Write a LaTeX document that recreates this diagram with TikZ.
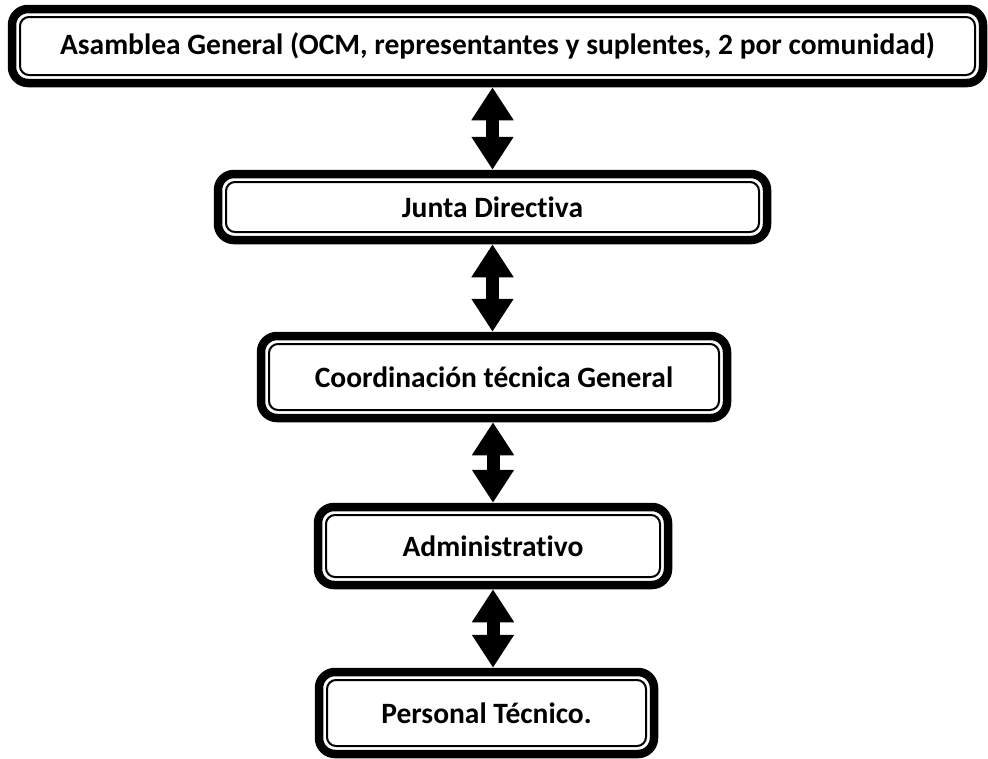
\documentclass[tikz,border=0pt]{standalone}
\usepackage{fontspec}
\setmainfont{Carlito}[Ligatures=NoCommon]
\usetikzlibrary{arrows.meta}
\begin{document}
\begin{tikzpicture}[x=1pt,y=-1pt,
  caja/.style={draw,line width=8.5pt,rounded corners=16pt,fill=white,inner sep=0pt,
    font=\fontsize{29.5}{33}\selectfont\bfseries,
    path picture={\draw[line width=2pt,rounded corners=9pt]
      ([shift={(8pt,8pt)}]path picture bounding box.south west) rectangle
      ([shift={(-8pt,-8pt)}]path picture bounding box.north east);}},
  flecha/.style={line width=13pt,{Triangle[length=33pt,width=40pt]}-{Triangle[length=33pt,width=40pt]}}]
\useasboundingbox (0,0) rectangle (988,758);
\node[caja,minimum width=971pt,minimum height=74pt] (asamblea) at (497.5,46)
  {Asamblea General (OCM, representantes y suplentes, 2 por comunidad)};
\node[caja,minimum width=549pt,minimum height=66pt] (junta) at (492.5,207) {Junta Directiva};
\node[caja,minimum width=466pt,minimum height=82pt] (coord) at (494,377) {Coordinación técnica General};
\node[caja,minimum width=350pt,minimum height=78pt] (admin) at (493,546) {Administrativo};
\node[caja,minimum width=335pt,minimum height=82pt] (personal) at (486.5,713) {Personal Técnico.};
\draw[flecha] (junta.north |- asamblea.south) -- (junta.north);
\draw[flecha] (junta.south) -- (junta.south |- coord.north);
\draw[flecha] (admin.north |- coord.south) -- (admin.north);
\draw[flecha] (admin.south) -- (admin.south |- personal.north);
\end{tikzpicture}
\end{document}
